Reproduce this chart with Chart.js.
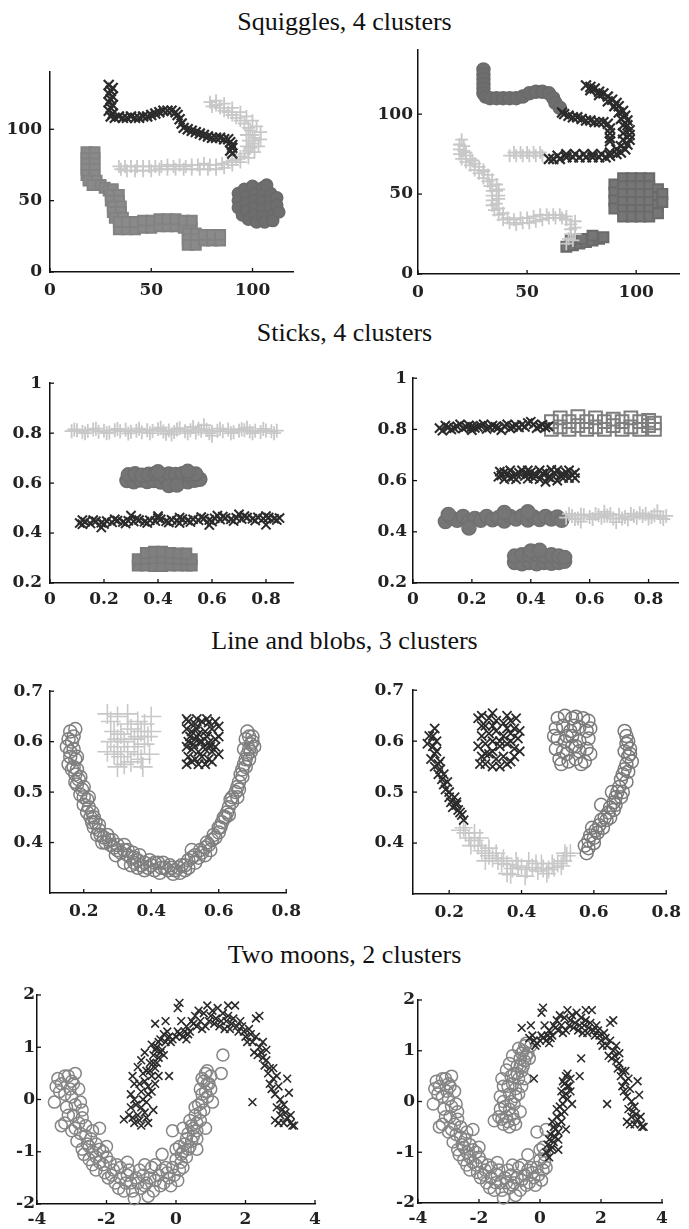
<!DOCTYPE html>
<html>
<head>
<meta charset="utf-8">
<script src="https://cdn.jsdelivr.net/npm/chart.js@4.4.0/dist/chart.umd.min.js"></script>
<style>
html, body { margin: 0; padding: 0; background: #fff; }
body { width: 689px; height: 1229px; position: relative; overflow: hidden; }
.ttl { position: absolute; left: 0; width: 689px; text-align: center; font-family: "Liberation Serif", serif; font-size: 26px; line-height: 28px; color: #111; }
canvas { position: absolute; }
</style>
</head>
<body>
<div class="ttl" style="top:8px">Squiggles, 4 clusters</div>
<div class="ttl" style="top:319px">Sticks, 4 clusters</div>
<div class="ttl" style="top:627px">Line and blobs, 3 clusters</div>
<div class="ttl" style="top:941px">Two moons, 2 clusters</div>
<script>
// tick labels
const sqTicks = [0, 50, 100];
const stXTicks = [0, 0.2, 0.4, 0.6, 0.8];
const stYTicks = [0.2, 0.4, 0.6, 0.8, 1];
const lbXTicks = [0.2, 0.4, 0.6, 0.8];
const lbYTicks = [0.4, 0.5, 0.6, 0.7];
const mnXTicks = [-4, -2, 0, 2, 4];
const mnYTicks = [-2, -1, 0, 1, 2];

// squiggles, left (x,y pairs)
const sqLeftDark = [29,131, 31,129, 30,127, 29,125, 31,123, 30,121, 29,119, 31,117, 30,115, 29,113, 31,111, 30,109,
  32,108, 34,109, 36,108, 38,108, 40,109, 42,108, 44,108, 46,109, 48,109, 50,110, 52,111, 54,112, 56,113, 58,113, 60,113, 62,112,
  63,110, 64,107, 65,104, 66,101, 68,100, 70,99, 72,98, 74,97, 76,96, 78,95, 80,94, 82,94, 84,94, 86,93, 88,93, 89,91, 90,89, 90,87, 89,85, 90,83];
const sqLeftLight = [79,119, 80,116, 82,117, 84,115, 86,113, 88,112, 90,110, 92,108, 94,106, 96,104, 98,101, 99,99, 100,96, 101,94, 101,92,
  100,90, 99,87, 98,85, 96,83, 94,81, 92,79, 90,78, 88,77, 85,76, 82,75, 79,75, 76,76, 73,75, 70,75, 67,74, 64,75, 61,74, 58,75,
  55,74, 52,74, 49,74, 46,74, 43,74, 40,74, 37,74, 34,74, 97,96, 98,92, 97,88,
  82,120, 86,118, 90,115, 94,112, 97,109, 100,106, 102,102, 104,98, 104,93, 103,88, 101,84, 98,80, 94,77, 90,75, 86,73, 82,72,
  78,72, 74,72, 70,72, 66,72, 62,72, 58,72, 54,72, 50,71, 46,71, 42,71, 38,71, 35,72];
const sqLeftSquare = [18,84, 22,84, 18,80, 22,80, 18,76, 22,76, 18,72, 22,72, 18,68, 22,68, 19,64, 23,64, 21,61, 25,61, 27,59, 29,57, 31,58,
  30,54, 34,54, 30,50, 34,50, 31,46, 35,46, 31,42, 35,42, 32,38, 36,38, 34,30, 34,35, 38,30, 38,35, 42,30, 42,35, 46,31, 46,36,
  50,31, 50,36, 54,32, 54,37, 58,32, 58,37, 62,32, 62,37, 66,31, 66,36, 70,31, 70,36, 68,27, 72,27, 68,23, 72,23, 68,19, 72,19,
  76,22, 76,26, 80,22, 80,26, 84,22, 84,26];
const sqLeftCircle = [93,55, 93,50, 93,45, 95,40, 96,58, 97,53, 97,48, 97,43, 98,37, 100,60, 101,55, 101,50, 101,45, 101,40, 102,35,
  105,59, 105,54, 105,49, 105,44, 105,39, 106,35, 109,55, 109,50, 109,45, 110,40, 112,52, 112,47, 113,42, 110,36, 107,61];

// squiggles, right
const sqRightCircle = [30,128, 30,125, 30,122, 30,119, 30,116, 30,113, 31,111, 33,110, 36,110, 39,110, 42,110, 45,110, 48,111,
  51,113, 54,114, 57,114, 60,113, 62,110, 63,107, 65,104];
const sqRightDark = [66,101, 67,100, 69,99, 71,98, 73,98, 75,97, 77,96, 79,96, 81,95, 83,95, 85,95, 87,94, 88,91, 88,88, 88,85, 88,83,
  77,118, 79,117, 81,116, 83,114, 85,113, 87,111, 89,109, 91,107, 92,105, 94,102, 95,99, 96,96, 96,93, 97,90, 97,87, 97,84,
  96,81, 95,78, 93,76, 91,75, 88,74, 86,73, 83,73, 80,73, 77,73, 74,73, 71,73, 68,73, 65,72, 62,72, 60,72,
  79,115, 83,112, 87,108, 90,105, 92,101, 93,97, 94,93, 94,88, 94,84, 93,80, 91,78, 88,76, 84,75, 80,75, 76,75, 72,75, 68,75, 64,74];
const sqRightLight = [42,74, 45,74, 48,74, 51,74, 54,74, 57,74, 20,84, 19,81, 19,78, 19,75, 20,72, 22,70, 24,68, 26,65, 28,63, 30,60,
  32,58, 33,55, 34,52, 34,49, 34,46, 34,43, 35,40, 37,37, 39,34, 42,32, 45,31, 48,32, 51,32, 54,33, 57,34, 60,35, 63,35, 66,35,
  68,34, 70,31, 70,28, 70,25, 69,22, 68,19, 22,76, 25,71, 30,65, 37,53, 37,47,
  21,80, 21,77, 22,74, 24,72, 26,69, 28,67, 30,64, 32,62, 34,59, 36,56, 36,52, 37,49, 36,44, 37,41, 39,38, 41,35, 44,34, 47,35,
  50,35, 53,36, 56,37, 59,37, 62,37, 65,37, 68,36, 72,33, 72,29, 72,25, 71,21, 44,76, 47,76, 50,76, 53,76, 56,76];
const sqRightSquare = [68,17, 71,18, 74,19, 77,20, 80,21, 83,22, 85,23, 70,21, 75,22, 80,24,
  90,56, 90,51, 90,46, 90,41, 94,60, 94,55, 94,50, 94,45, 94,40, 94,36, 98,60, 98,55, 98,50, 98,45, 98,40, 98,36,
  102,60, 102,55, 102,50, 102,45, 102,40, 102,36, 106,60, 106,55, 106,50, 106,45, 106,40, 106,36, 110,53, 110,48, 110,43, 110,38, 112,50, 112,45];

// sticks, left
const stLeftLight = [0.08,0.808, 0.10,0.812, 0.12,0.805, 0.14,0.81, 0.16,0.815, 0.18,0.806, 0.20,0.81, 0.22,0.803, 0.24,0.812, 0.26,0.808,
  0.28,0.814, 0.30,0.806, 0.32,0.81, 0.34,0.804, 0.36,0.812, 0.38,0.809, 0.40,0.816, 0.42,0.807, 0.44,0.811, 0.46,0.805, 0.48,0.82,
  0.50,0.808, 0.52,0.812, 0.54,0.803, 0.56,0.81, 0.58,0.814, 0.60,0.806, 0.62,0.81, 0.64,0.808, 0.66,0.815, 0.68,0.804, 0.70,0.81,
  0.72,0.812, 0.74,0.807, 0.76,0.81, 0.78,0.805, 0.80,0.811, 0.82,0.808, 0.84,0.81, 0.45,0.795, 0.53,0.825, 0.60,0.79, 0.73,0.822,
  0.09,0.815, 0.13,0.8, 0.17,0.818, 0.21,0.8, 0.25,0.817, 0.29,0.799, 0.33,0.818, 0.37,0.8, 0.41,0.822, 0.43,0.798, 0.47,0.815,
  0.51,0.8, 0.55,0.818, 0.57,0.832, 0.59,0.8, 0.63,0.818, 0.67,0.8, 0.71,0.816, 0.75,0.8, 0.79,0.817, 0.83,0.8];
const stLeftCircle = [0.285,0.61, 0.31,0.605, 0.335,0.612, 0.36,0.606, 0.385,0.61, 0.41,0.604, 0.435,0.612, 0.46,0.607, 0.485,0.609,
  0.51,0.605, 0.535,0.611, 0.555,0.615, 0.29,0.633, 0.315,0.637, 0.34,0.631, 0.365,0.635, 0.39,0.638, 0.415,0.632, 0.44,0.636,
  0.465,0.634, 0.49,0.637, 0.515,0.633, 0.54,0.636, 0.44,0.59, 0.47,0.592, 0.40,0.645, 0.51,0.647];
const stLeftDark = [0.11,0.44, 0.13,0.445, 0.15,0.438, 0.17,0.447, 0.19,0.441, 0.21,0.448, 0.23,0.443, 0.25,0.45, 0.27,0.444, 0.29,0.449,
  0.31,0.446, 0.33,0.452, 0.35,0.445, 0.37,0.451, 0.39,0.448, 0.41,0.455, 0.43,0.447, 0.45,0.453, 0.47,0.449, 0.49,0.456, 0.51,0.45,
  0.53,0.455, 0.55,0.451, 0.57,0.458, 0.59,0.452, 0.61,0.459, 0.63,0.454, 0.65,0.46, 0.67,0.455, 0.69,0.461, 0.71,0.456, 0.73,0.462,
  0.75,0.457, 0.77,0.463, 0.79,0.458, 0.81,0.462, 0.83,0.457, 0.85,0.46, 0.19,0.422, 0.59,0.432, 0.80,0.433, 0.30,0.47, 0.40,0.468,
  0.70,0.475, 0.12,0.452, 0.48,0.44, 0.62,0.47,
  0.12,0.435, 0.16,0.452, 0.2,0.436, 0.24,0.455, 0.28,0.438, 0.32,0.457, 0.36,0.44, 0.4,0.46, 0.44,0.442, 0.48,0.462, 0.52,0.444,
  0.56,0.464, 0.6,0.446, 0.64,0.466, 0.68,0.448, 0.72,0.468, 0.76,0.45, 0.8,0.468, 0.84,0.452];
const stLeftSquare = [0.325,0.27, 0.355,0.27, 0.385,0.268, 0.415,0.268, 0.445,0.27, 0.475,0.27, 0.505,0.27, 0.525,0.27, 0.325,0.295,
  0.355,0.297, 0.385,0.3, 0.415,0.3, 0.445,0.298, 0.475,0.297, 0.505,0.295, 0.525,0.295, 0.355,0.32, 0.385,0.325, 0.415,0.325,
  0.445,0.32, 0.475,0.318, 0.505,0.318];

// sticks, right
const stRightDark = [0.09,0.805, 0.11,0.815, 0.13,0.8, 0.15,0.812, 0.17,0.804, 0.19,0.816, 0.21,0.806, 0.23,0.814, 0.25,0.802, 0.27,0.815,
  0.29,0.807, 0.31,0.813, 0.33,0.804, 0.35,0.816, 0.37,0.818, 0.39,0.825, 0.41,0.82, 0.43,0.812, 0.45,0.808, 0.10,0.795, 0.2,0.797,
  0.3,0.797, 0.4,0.83, 0.38,0.81, 0.12,0.808, 0.16,0.82, 0.2,0.81, 0.24,0.82, 0.28,0.81, 0.32,0.82, 0.36,0.808, 0.42,0.805, 0.44,0.818,
  0.14,0.805, 0.18,0.81, 0.22,0.81, 0.26,0.808, 0.34,0.81, 0.46,0.812,
  0.30,0.62, 0.32,0.628, 0.34,0.615, 0.36,0.63, 0.38,0.618, 0.40,0.632, 0.42,0.62, 0.44,0.628, 0.46,0.614, 0.48,0.63, 0.50,0.62,
  0.52,0.632, 0.54,0.622, 0.31,0.605, 0.37,0.64, 0.43,0.605, 0.47,0.642, 0.49,0.6, 0.53,0.61, 0.45,0.595,
  0.31,0.632, 0.35,0.625, 0.39,0.625, 0.41,0.61, 0.45,0.632, 0.51,0.61, 0.55,0.63, 0.33,0.61,
  0.295,0.635, 0.33,0.64, 0.39,0.64, 0.43,0.64, 0.49,0.64, 0.53,0.64, 0.55,0.61, 0.35,0.605, 0.39,0.607, 0.47,0.607, 0.51,0.625,
  0.41,0.625, 0.29,0.615];
const stRightSquare = [0.47,0.80, 0.47,0.83, 0.50,0.81, 0.50,0.845, 0.53,0.80, 0.53,0.83, 0.56,0.815, 0.56,0.85, 0.59,0.80, 0.59,0.83,
  0.62,0.81, 0.62,0.845, 0.65,0.80, 0.65,0.83, 0.68,0.815, 0.68,0.84, 0.71,0.80, 0.71,0.83, 0.74,0.81, 0.74,0.845, 0.77,0.80,
  0.77,0.83, 0.80,0.815, 0.80,0.835, 0.82,0.80, 0.82,0.825];
const stRightCircle = [0.11,0.44, 0.13,0.455, 0.15,0.445, 0.17,0.46, 0.19,0.44, 0.21,0.452, 0.23,0.445, 0.25,0.46, 0.27,0.447, 0.29,0.455,
  0.31,0.442, 0.33,0.46, 0.35,0.45, 0.37,0.462, 0.39,0.446, 0.41,0.458, 0.43,0.448, 0.45,0.46, 0.47,0.45, 0.49,0.458, 0.505,0.445,
  0.19,0.415, 0.31,0.475, 0.39,0.478, 0.12,0.468,
  0.345,0.28, 0.37,0.275, 0.395,0.28, 0.42,0.275, 0.445,0.28, 0.47,0.277, 0.495,0.28, 0.515,0.285, 0.345,0.305, 0.37,0.31,
  0.395,0.308, 0.42,0.312, 0.445,0.306, 0.47,0.31, 0.495,0.305, 0.515,0.3, 0.4,0.325, 0.43,0.328];
const stRightLight = [0.52,0.455, 0.54,0.462, 0.56,0.452, 0.58,0.465, 0.60,0.458, 0.62,0.47, 0.64,0.455, 0.66,0.463, 0.68,0.452, 0.70,0.466,
  0.72,0.458, 0.74,0.47, 0.76,0.455, 0.78,0.462, 0.80,0.452, 0.82,0.465, 0.84,0.458, 0.86,0.462, 0.57,0.44, 0.69,0.438, 0.83,0.48, 0.65,0.478,
  0.53,0.47, 0.57,0.468, 0.61,0.45, 0.65,0.462, 0.67,0.47, 0.71,0.452, 0.75,0.462, 0.79,0.47, 0.81,0.458, 0.85,0.45, 0.55,0.45,
  0.63,0.465, 0.73,0.448, 0.77,0.472];

// line and blobs, left
const lbLeftCircle = [0.16,0.62, 0.17,0.61, 0.165,0.6, 0.15,0.59, 0.17,0.585, 0.16,0.57, 0.175,0.565, 0.155,0.555, 0.17,0.55, 0.18,0.545,
  0.175,0.535, 0.185,0.525, 0.18,0.515, 0.195,0.505, 0.2,0.49, 0.21,0.485, 0.2,0.475, 0.215,0.47, 0.225,0.46, 0.22,0.45, 0.235,0.44,
  0.23,0.43, 0.245,0.425, 0.25,0.415, 0.26,0.41, 0.265,0.4, 0.275,0.405, 0.28,0.395, 0.29,0.39, 0.3,0.385, 0.31,0.38, 0.32,0.385,
  0.33,0.375, 0.34,0.37, 0.35,0.37, 0.35,0.36, 0.36,0.365, 0.37,0.355, 0.38,0.36, 0.39,0.35, 0.4,0.355, 0.41,0.345, 0.42,0.36,
  0.43,0.35, 0.44,0.35, 0.45,0.345, 0.46,0.35, 0.47,0.345, 0.48,0.35, 0.49,0.355, 0.5,0.355, 0.51,0.365, 0.52,0.37, 0.53,0.375,
  0.54,0.37, 0.55,0.38, 0.56,0.39, 0.57,0.395, 0.58,0.405, 0.59,0.41, 0.6,0.42, 0.605,0.43, 0.61,0.44, 0.62,0.45, 0.625,0.46,
  0.63,0.47, 0.64,0.48, 0.64,0.49, 0.65,0.5, 0.655,0.51, 0.66,0.52, 0.665,0.535, 0.67,0.545, 0.675,0.555, 0.68,0.565, 0.685,0.575,
  0.69,0.585, 0.695,0.595, 0.7,0.6, 0.69,0.61, 0.685,0.62, 0.34,0.355, 0.32,0.36, 0.52,0.385, 0.56,0.375,
  0.175,0.625, 0.155,0.605, 0.16,0.58, 0.18,0.57, 0.165,0.545, 0.19,0.53, 0.175,0.52, 0.2,0.51, 0.19,0.495, 0.215,0.49, 0.21,0.46,
  0.23,0.45, 0.225,0.44, 0.245,0.435, 0.24,0.415, 0.27,0.415, 0.255,0.4, 0.285,0.405, 0.3,0.395, 0.295,0.375, 0.32,0.395, 0.33,0.385,
  0.345,0.38, 0.365,0.375, 0.36,0.35, 0.38,0.345, 0.395,0.365, 0.41,0.36, 0.425,0.34, 0.435,0.36, 0.455,0.355, 0.465,0.338,
  0.485,0.34, 0.5,0.345, 0.51,0.35, 0.53,0.36, 0.545,0.385, 0.565,0.4, 0.575,0.385, 0.585,0.415, 0.6,0.43, 0.615,0.45, 0.63,0.455,
  0.635,0.485, 0.655,0.49, 0.66,0.505, 0.67,0.53, 0.68,0.55, 0.69,0.565, 0.695,0.58, 0.705,0.59, 0.7,0.61, 0.68,0.605, 0.675,0.585];
const lbLeftLight = [0.28,0.64, 0.30,0.65, 0.33,0.655, 0.36,0.64, 0.38,0.635, 0.29,0.62, 0.31,0.615, 0.34,0.625, 0.37,0.62, 0.39,0.61,
  0.28,0.6, 0.30,0.59, 0.32,0.6, 0.35,0.605, 0.38,0.595, 0.29,0.575, 0.31,0.57, 0.33,0.58, 0.36,0.575, 0.34,0.56, 0.32,0.555,
  0.37,0.565, 0.30,0.605, 0.35,0.59, 0.33,0.635, 0.36,0.61, 0.27,0.655, 0.4,0.65, 0.395,0.575, 0.3,0.55, 0.375,0.55, 0.27,0.58, 0.4,0.62];
const lbLeftDark = [0.51,0.64, 0.53,0.635, 0.55,0.64, 0.57,0.638, 0.59,0.64, 0.52,0.62, 0.54,0.615, 0.56,0.62, 0.58,0.625, 0.51,0.6,
  0.53,0.605, 0.55,0.6, 0.57,0.598, 0.59,0.605, 0.52,0.585, 0.54,0.58, 0.56,0.585, 0.58,0.58, 0.51,0.57, 0.53,0.565, 0.55,0.57,
  0.57,0.565, 0.52,0.56, 0.56,0.555, 0.59,0.59, 0.505,0.625, 0.505,0.645, 0.535,0.645, 0.565,0.645, 0.6,0.63, 0.6,0.61, 0.6,0.575,
  0.505,0.59, 0.505,0.555, 0.54,0.555, 0.58,0.56, 0.545,0.6, 0.565,0.61, 0.525,0.595, 0.535,0.625, 0.575,0.59, 0.515,0.61];

// line and blobs, right
const lbRightDark = [0.29,0.65, 0.31,0.645, 0.30,0.63, 0.33,0.64, 0.35,0.635, 0.37,0.64, 0.38,0.625, 0.29,0.61, 0.31,0.615, 0.33,0.62,
  0.35,0.61, 0.37,0.615, 0.39,0.605, 0.28,0.59, 0.30,0.595, 0.32,0.6, 0.34,0.59, 0.36,0.595, 0.38,0.585, 0.29,0.57, 0.31,0.575,
  0.33,0.565, 0.35,0.57, 0.37,0.56, 0.30,0.555, 0.34,0.55, 0.38,0.57, 0.32,0.58, 0.28,0.645, 0.32,0.655, 0.36,0.65, 0.385,0.645,
  0.395,0.62, 0.395,0.58, 0.285,0.555, 0.32,0.55, 0.36,0.555, 0.29,0.63, 0.34,0.6, 0.36,0.625, 0.32,0.63, 0.3,0.575, 0.37,0.6,
  0.16,0.625, 0.155,0.61, 0.14,0.595, 0.155,0.59, 0.165,0.58, 0.15,0.565, 0.16,0.55, 0.175,0.545, 0.17,0.535, 0.18,0.525, 0.185,0.515,
  0.19,0.505, 0.2,0.49, 0.205,0.48, 0.21,0.47, 0.22,0.475, 0.225,0.465, 0.23,0.46, 0.24,0.445, 0.175,0.56,
  0.145,0.61, 0.165,0.6, 0.16,0.575, 0.17,0.555, 0.185,0.535, 0.195,0.52, 0.2,0.5, 0.215,0.49, 0.22,0.48, 0.235,0.455];
const lbRightCircle = [0.50,0.645, 0.52,0.65, 0.55,0.648, 0.57,0.645, 0.585,0.64, 0.495,0.625, 0.515,0.63, 0.535,0.62, 0.56,0.628, 0.58,0.62,
  0.50,0.605, 0.52,0.6, 0.54,0.61, 0.56,0.6, 0.585,0.605, 0.495,0.585, 0.515,0.58, 0.54,0.59, 0.56,0.58, 0.58,0.585, 0.505,0.565,
  0.53,0.56, 0.55,0.565, 0.575,0.56, 0.545,0.63, 0.525,0.61, 0.49,0.61, 0.59,0.625, 0.59,0.575, 0.51,0.555, 0.565,0.555, 0.54,0.645,
  0.55,0.59, 0.525,0.575,
  0.58,0.38, 0.575,0.395, 0.585,0.405, 0.59,0.415, 0.6,0.41, 0.605,0.425, 0.615,0.435, 0.62,0.445, 0.63,0.45, 0.64,0.46, 0.645,0.47,
  0.655,0.48, 0.66,0.49, 0.665,0.5, 0.67,0.51, 0.675,0.525, 0.68,0.535, 0.685,0.545, 0.69,0.555, 0.695,0.57, 0.7,0.585, 0.695,0.6,
  0.69,0.61, 0.685,0.62, 0.62,0.475, 0.595,0.43, 0.65,0.5, 0.585,0.39, 0.6,0.4, 0.61,0.42, 0.625,0.43, 0.635,0.445, 0.645,0.45,
  0.655,0.465, 0.66,0.475, 0.675,0.49, 0.68,0.5, 0.69,0.52, 0.695,0.54, 0.705,0.56, 0.7,0.575, 0.685,0.58, 0.69,0.595];
const lbRightLight = [0.23,0.425, 0.245,0.42, 0.255,0.41, 0.27,0.405, 0.28,0.395, 0.29,0.385, 0.3,0.38, 0.31,0.375, 0.32,0.37, 0.335,0.365,
  0.345,0.36, 0.36,0.358, 0.375,0.35, 0.39,0.355, 0.4,0.352, 0.415,0.348, 0.43,0.352, 0.445,0.345, 0.46,0.35, 0.475,0.348, 0.49,0.352,
  0.5,0.36, 0.515,0.365, 0.525,0.375, 0.535,0.38, 0.37,0.338, 0.31,0.39, 0.27,0.42, 0.44,0.36,
  0.24,0.43, 0.26,0.395, 0.285,0.41, 0.3,0.365, 0.33,0.38, 0.35,0.37, 0.36,0.34, 0.385,0.365, 0.41,0.335, 0.42,0.365, 0.455,0.36,
  0.47,0.34, 0.485,0.36, 0.51,0.355, 0.52,0.38];

// two moons: lower moon (left part / right tip), upper moon (left tip / rest)
const mnLowerA = [-3.4,0.4, -3.3,0.3, -3.1,0.45, -3.0,0.35, -2.9,0.5, -3.5,-0.05, -3.2,0.1, -3.0,0.05, -2.8,0.2, -3.3,-0.5, -3.1,-0.3,
  -2.9,-0.1, -2.7,-0.2, -3.0,-0.6, -2.8,-0.45, -2.6,-0.5, -2.85,-0.8, -2.6,-0.7, -2.4,-0.6, -2.2,-0.55, -2.7,-0.95, -2.5,-0.9,
  -2.3,-0.85, -2.5,-1.15, -2.3,-1.1, -2.1,-1.0, -2.3,-1.35, -2.1,-1.25, -1.9,-1.2, -1.95,-1.5, -1.8,-1.35, -1.6,-1.3, -1.75,-1.6,
  -1.6,-1.5, -1.4,-1.45, -1.5,-1.75, -1.3,-1.6, -1.2,-1.9, -1.15,-1.5, -1.0,-1.7, -0.95,-1.45, -0.8,-1.85, -0.85,-1.6, -0.7,-1.3,
  -0.6,-1.55, -0.5,-1.45, -0.35,-1.6, -0.3,-1.3, -0.2,-1.5, -0.1,-1.3, 0.05,-1.55, 0.0,-1.15, 0.15,-1.2, -0.4,-1.05, -0.6,-1.25,
  -0.1,-0.6, 0.1,-0.9, -2.0,-0.9, -1.4,-1.2, -0.9,-1.25,
  -3.45,0.25, -3.2,0.45, -3.35,0.15, -3.05,0.2, -2.95,0.3, -3.15,-0.15, -2.95,-0.3, -2.75,-0.05, -3.2,-0.45, -2.9,-0.55, -2.7,-0.35,
  -2.75,-0.65, -2.55,-0.85, -2.45,-0.75, -2.65,-1.05, -2.4,-1.0, -2.2,-0.95, -2.2,-1.2, -2.4,-1.25, -2.0,-1.1, -2.05,-1.4, -1.85,-1.45,
  -1.7,-1.25, -1.65,-1.7, -1.45,-1.6, -1.35,-1.35, -1.25,-1.75, -1.1,-1.6, -1.05,-1.35, -0.9,-1.65, -0.75,-1.5, -0.65,-1.75,
  -0.45,-1.65, -0.4,-1.35, -0.25,-1.4, -0.15,-1.65, -0.05,-1.45, 0.1,-1.35, 0.2,-1.3, 0.15,-1.05, 0.0,-0.95, 0.2,-0.55];
const mnLowerB = [0.2,-1.0, 0.3,-1.1, 0.25,-0.85, 0.4,-0.9, 0.35,-0.65, 0.5,-0.7, 0.45,-0.5, 0.6,-0.6, 0.55,-0.3, 0.7,-0.4,
  0.65,-0.1, 0.8,-0.2, 0.75,0.1, 0.9,0.05, 0.8,0.35, 0.95,0.3, 0.85,0.5, 1.0,0.45, 1.3,0.5, 1.35,0.85, 1.05,-0.05, 0.85,-0.55,
  0.6,-0.95, 0.7,0.2, 0.35,-0.95, 0.3,-0.75, 0.45,-0.8, 0.5,-0.55, 0.4,-0.4, 0.6,-0.45, 0.55,-0.15, 0.7,-0.25, 0.75,-0.05,
  0.85,0.15, 0.9,0.3, 0.75,0.4, 0.9,0.55, 1.0,0.2, 0.6,-0.75];
const mnUpperA = [-1.2,-0.45, -1.0,-0.5, -0.8,-0.45, -1.1,-0.3, -0.9,-0.25, -1.15,-0.1, -0.95,0.0, -0.8,0.1, -1.0,0.15, -1.2,0.3,
  -0.9,0.35, -1.1,0.62, -0.85,0.55, -0.7,0.45, -0.75,0.7, -0.6,0.6, -0.65,0.85, -0.5,0.8, -0.55,1.0, -0.4,0.95, -0.45,1.15, -0.3,1.1,
  -1.5,-0.38, -1.25,-0.35, -1.05,-0.4, -0.85,-0.35, -1.0,-0.15, -1.2,0.0, -0.85,-0.05, -1.05,0.3, -0.8,0.25, -0.95,0.5, -0.75,0.55,
  -0.65,0.7, -0.55,0.7, -0.6,0.95, -0.45,0.9, -0.5,1.1,
  -1.35,-0.3, -1.3,0.1, -1.25,0.45, -1.0,0.75, -0.9,0.9, -0.7,1.05, -0.35,0.85, -0.5,0.45, -0.6,0.3, -0.7,0.15, -0.65,-0.2, -1.3,-0.15];
const mnUpperB = [-0.35,1.25, -0.2,1.2, -0.1,1.15, 0.0,1.2, 0.1,1.25, 0.2,1.2, 0.3,1.15, 0.15,1.5, 0.05,1.75, 0.3,1.4, 0.4,1.3, 0.5,1.45,
  0.55,1.6, 0.7,1.5, 0.8,1.65, 0.85,1.4, 0.9,1.8, 1.0,1.6, 1.1,1.45, 1.2,1.75, 1.3,1.5, 1.4,1.35, 1.5,1.6, 1.6,1.45, 1.7,1.8, 1.8,1.3,
  1.9,1.4, 2.0,1.2, 2.1,1.35, 2.2,1.1, 2.3,1.55, 2.25,0.9, 2.4,1.0, 2.5,0.8, 2.6,0.95, 2.55,0.65, 2.7,0.6, 2.8,0.4, 2.75,0.2, 2.9,0.45,
  3.0,0.0, 2.9,-0.15, 3.1,-0.1, 2.85,-0.4, 3.0,-0.3, 3.2,-0.35, 3.3,-0.45, 3.4,-0.5, 3.25,0.13, 3.2,0.4, 2.2,-0.05,
  -0.2,0.45, -0.6,1.45, -0.3,1.5, 0.1,1.85, 1.5,1.8, 2.4,1.6,
  -0.25,1.3, -0.15,1.1, 0.05,1.3, 0.25,1.3, 0.35,1.25, 0.45,1.5, 0.6,1.4, 0.65,1.7, 0.75,1.35, 0.95,1.5, 1.05,1.7, 1.15,1.55, 1.25,1.4,
  1.35,1.65, 1.45,1.5, 1.55,1.35, 1.65,1.55, 1.75,1.4, 1.85,1.5, 1.95,1.3, 2.05,1.1, 2.15,1.25, 2.3,1.2, 2.35,0.85, 2.45,0.9, 2.5,1.1,
  2.6,0.75, 2.65,0.5, 2.8,0.6, 2.7,0.3, 2.85,0.1, 2.95,0.25, 3.05,-0.2, 2.95,-0.45, 3.15,-0.25, 3.1,-0.45, 3.3,-0.3, 3.35,-0.5];

function pts(a) {
  const out = [];
  for (let i = 0; i < a.length; i += 2) out.push({x: a[i], y: a[i + 1]});
  return out;
}

// marker styles
function dark(a, r, w) { return {data: pts(a), pointStyle: 'crossRot', pointRadius: r || 6, borderColor: '#2b2b2b', backgroundColor: '#2b2b2b', borderWidth: w || 1.8}; }
function light(a, r, w) { return {data: pts(a), pointStyle: 'cross', pointRadius: r || 6, borderColor: '#c8c8c8', backgroundColor: '#c8c8c8', borderWidth: w || 1.8}; }
function ring(a, r, col, fill) { return {data: pts(a), pointStyle: 'circle', pointRadius: r || 6, borderColor: col || '#7f7f7f', backgroundColor: fill || 'rgba(0,0,0,0)', borderWidth: 1.5}; }
function box(a, r, col, fill) { return {data: pts(a), pointStyle: 'rect', pointRadius: r || 7, borderColor: col || '#7c7c7c', backgroundColor: fill || 'rgba(0,0,0,0)', borderWidth: 2}; }

// inward tick marks, placed through the scales
const inTicks = {
  id: 'inTicks',
  beforeDatasetsDraw(chart) {
    const ctx = chart.ctx, xs = chart.scales.x, ys = chart.scales.y;
    ctx.save();
    ctx.strokeStyle = '#111';
    ctx.lineWidth = 1.3;
    xs.ticks.forEach(t => {
      const p = xs.getPixelForValue(t.value);
      ctx.beginPath(); ctx.moveTo(p, xs.top); ctx.lineTo(p, xs.top - 4); ctx.stroke();
    });
    ys.ticks.forEach(t => {
      const p = ys.getPixelForValue(t.value);
      ctx.beginPath(); ctx.moveTo(ys.right, p); ctx.lineTo(ys.right + 4, p); ctx.stroke();
    });
    ctx.restore();
  }
};

const tickFont = {family: 'DejaVu Serif', size: 17, weight: 'bold'};

function panel(p) {
  const [L, T, R, B] = p.area;
  const xh = 34, pt = 14;
  const w = p.yw + (R - L) + p.pr, h = pt + (B - T) + xh;
  const c = document.createElement('canvas');
  c.width = w; c.height = h;
  c.style.left = (L - p.yw) + 'px';
  c.style.top = (T - pt) + 'px';
  c.style.width = w + 'px';
  c.style.height = h + 'px';
  document.body.appendChild(c);
  new Chart(c, {
    type: 'scatter',
    data: {datasets: p.sets.map(s => Object.assign({clip: false}, s))},
    options: {
      responsive: false,
      animation: false,
      events: [],
      layout: {padding: {top: pt, right: p.pr, left: 0, bottom: 0}},
      plugins: {legend: {display: false}, tooltip: {enabled: false}},
      scales: {
        x: {
          type: 'linear', min: p.x[0], max: p.x[1],
          grid: {display: false, drawTicks: false},
          border: {display: true, color: '#111', width: 1.5},
          ticks: {font: tickFont, color: '#222', padding: p.xpad, maxRotation: 0, callback: v => String(v)},
          afterBuildTicks: s => { s.ticks = p.xt.map(v => ({value: v})); },
          afterFit: s => { s.height = xh; }
        },
        y: {
          type: 'linear', min: p.y[0], max: p.y[1],
          grid: {display: false, drawTicks: false},
          border: {display: true, color: '#111', width: 1.5},
          ticks: {font: tickFont, color: '#222', padding: p.ypad, callback: v => String(v)},
          afterBuildTicks: s => { s.ticks = p.yt.map(v => ({value: v})); },
          afterFit: s => { s.width = p.yw; }
        }
      }
    },
    plugins: [inTicks]
  });
}

const panels = [
  {area: [50, 68, 293, 272], yw: 48, pr: 14, x: [0, 120], y: [0, 140], xt: sqTicks, yt: sqTicks, xpad: 8, ypad: 8,
   sets: [dark(sqLeftDark, 7, 2.2), light(sqLeftLight, 6.5), box(sqLeftSquare, 7, '#828282', '#8a8a8a'), ring(sqLeftCircle, 6, '#6a6a6a', '#6e6e6e')]},
  {area: [418, 49, 689, 274], yw: 60, pr: 0, x: [0, 120], y: [0, 140], xt: sqTicks, yt: sqTicks, xpad: 8, ypad: 5,
   sets: [dark(sqRightDark, 7, 2.2), ring(sqRightCircle, 6.5, '#6a6a6a', '#6e6e6e'), light(sqRightLight, 6.5), box(sqRightSquare, 7, '#6a6a6a', '#767676')]},
  {area: [50, 379, 293, 583], yw: 48, pr: 14, x: [0, 0.9], y: [0.2, 1], xt: stXTicks, yt: stYTicks, xpad: 6, ypad: 8,
   sets: [light(stLeftLight, 7), ring(stLeftCircle, 7, '#6e6e6e', '#747474'), dark(stLeftDark, 6.5, 2), box(stLeftSquare, 7, '#7a7a7a', '#808080')]},
  {area: [413, 376, 688, 583], yw: 60, pr: 1, x: [0, 0.9], y: [0.2, 1], xt: stXTicks, yt: stYTicks, xpad: 6, ypad: 6,
   sets: [dark(stRightDark, 6.5, 2), box(stRightSquare, 9, '#7e7e7e'), light(stRightLight, 7), ring(stRightCircle, 7, '#707070', '#767676')]},
  {area: [50, 688, 293, 893], yw: 48, pr: 16, x: [0.1, 0.8], y: [0.3, 0.7], xt: lbXTicks, yt: lbYTicks, xpad: 8, ypad: 7,
   sets: [dark(lbLeftDark, 6.5), light(lbLeftLight, 10, 1.6), ring(lbLeftCircle, 6.5, '#7f7f7f')]},
  {area: [413, 685, 675, 894], yw: 60, pr: 14, x: [0.1, 0.8], y: [0.3, 0.7], xt: lbXTicks, yt: lbYTicks, xpad: 8, ypad: 9,
   sets: [dark(lbRightDark, 6.5), ring(lbRightCircle, 6.5, '#7a7a7a'), light(lbRightLight, 9, 1.6)]},
  {area: [37, 995, 315, 1204], yw: 35, pr: 14, x: [-4, 4], y: [-2, 2], xt: mnXTicks, yt: mnYTicks, xpad: 5, ypad: 2,
   sets: [dark(mnUpperA.concat(mnUpperB), 5.5, 1.6), ring(mnLowerA.concat(mnLowerB), 6, '#858585')]},
  {area: [418, 1000, 662, 1203], yw: 60, pr: 14, x: [-4, 4], y: [-2, 2], xt: mnXTicks, yt: mnYTicks, xpad: 5, ypad: 3,
   sets: [dark(mnLowerB.concat(mnUpperB), 5.5, 1.6), ring(mnLowerA.concat(mnUpperA), 6, '#858585')]}
];

panels.forEach(panel);
</script>
</body>
</html>
